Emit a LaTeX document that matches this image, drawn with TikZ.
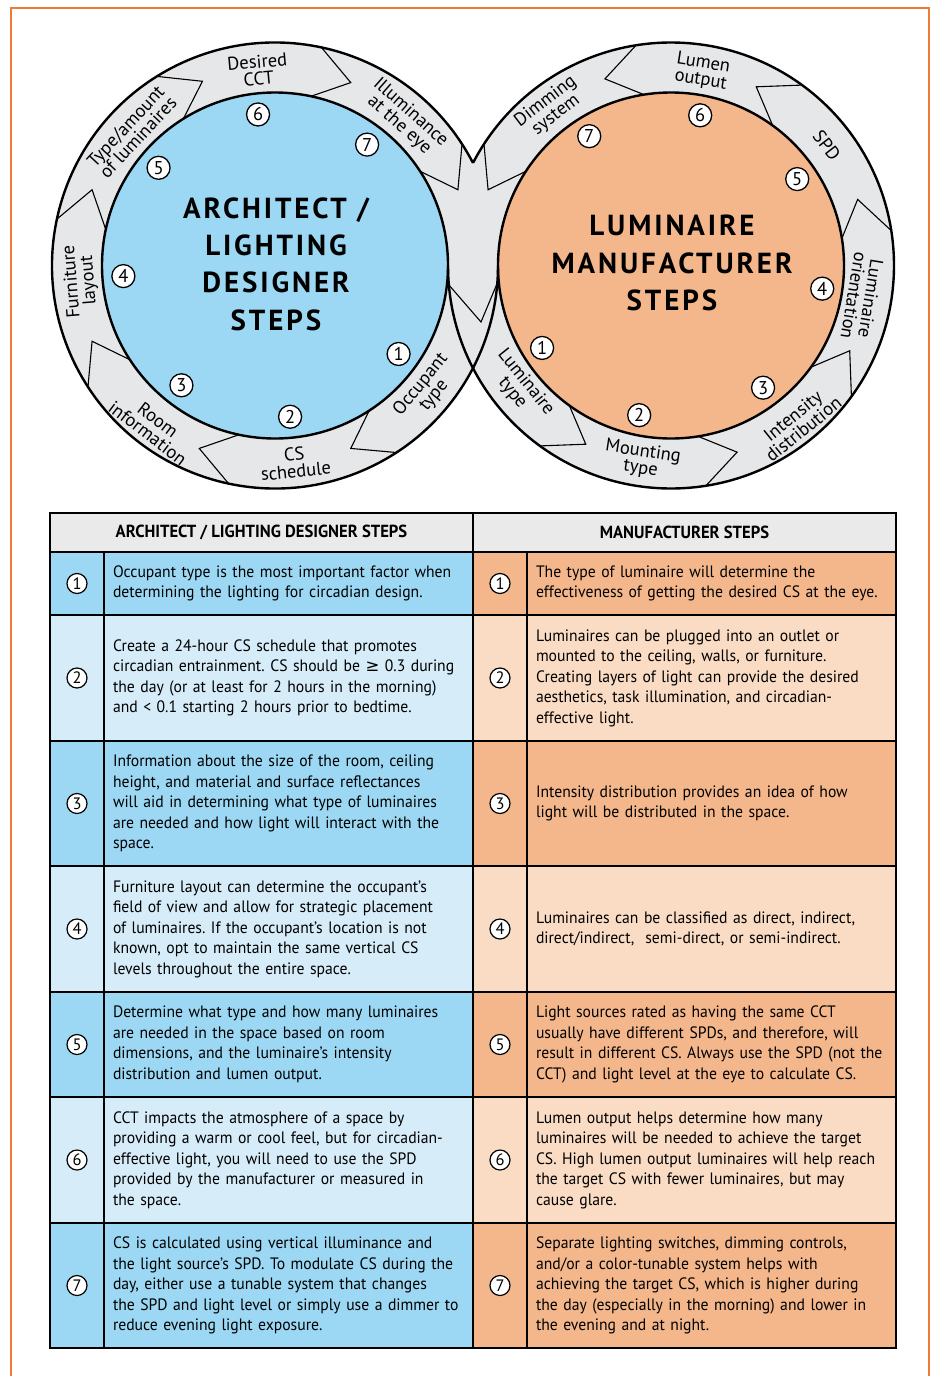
\documentclass[tikz,border=0pt]{standalone}
\usepackage{fontspec}
\setmainfont[FakeStretch=0.95]{PT Sans}
\newfontfamily\titlefont[LetterSpace=10]{PT Sans}
\newfontfamily\labelfont{PT Sans}
\newfontfamily\symfont{DejaVu Sans}
\usepackage{tikz}
\usetikzlibrary{positioning}
\frenchspacing

\definecolor{ringgray}{RGB}{230,231,233}
\definecolor{headgray}{RGB}{234,234,235}
\definecolor{darkblue}{RGB}{156,216,243}
\definecolor{lightblue}{RGB}{214,236,248}
\definecolor{darkorange}{RGB}{244,183,140}
\definecolor{lightorange}{RGB}{249,220,195}
\definecolor{frameorange}{RGB}{238,122,56}

\begin{document}
\begin{tikzpicture}[x=1pt,y=1pt,
  every node/.style={draw=none,align=center,inner sep=0pt,outer sep=0pt},
  ringtext/.style={font=\labelfont\fontsize{18.5}{17}\selectfont},
  steptitle/.style={font=\titlefont\bfseries\fontsize{29}{37.3}\selectfont},
  ringnum/.style={circle,draw,line width=1.3pt,fill=white,minimum size=23pt,font=\labelfont\fontsize{18.5}{18.5}\selectfont},
  tabnum/.style={circle,draw,line width=1.2pt,fill=white,minimum size=20pt,font=\labelfont\fontsize{16.5}{16.5}\selectfont},
  cell/.style={draw,line width=2.6pt},
  numcell/.style={cell,minimum width=54pt},
  textcell/.style={cell,minimum width=369pt,text width=351pt,inner xsep=9pt,align=left,font=\fontsize{16.5}{20.5}\selectfont},
  headcell/.style={cell,fill=headgray,minimum width=423pt,minimum height=39pt,font=\bfseries\fontsize{17.5}{17.5}\selectfont},
  ring/.style={line width=2.4pt},
  chev/.style={line width=1.1pt,line join=miter}]

  \useasboundingbox (0,0) rectangle (931,-1376);
  \draw[frameorange,line width=1.3pt] (11,-1376) -- (11,-8) -- (929,-8) -- (929,-1376);

  \coordinate (L) at (275,-265.5);
  \coordinate (R) at (671,-265.5);
  \coordinate (mtip) at (481,-322);

  \fill[ringgray] (L) circle[radius=223] (R) circle[radius=223];
  \draw[ring,fill=darkblue] (L) circle[radius=173];
  \draw[ring,fill=darkorange] (R) circle[radius=173];
  \draw[ring] ([shift={(27.4:223)}]L) arc[start angle=27.4,end angle=360,radius=223];
  \draw[ring] ([shift={(180:223)}]R) arc[start angle=180,end angle=512.6,radius=223];

  \draw[chev] ([shift={(33:173)}]L) -- ([shift={(22.5:198)}]L) -- ([shift={(33:223)}]L);
  \draw[chev] ([shift={(78:173)}]L) -- ([shift={(67.5:198)}]L) -- ([shift={(78:223)}]L);
  \draw[chev] ([shift={(122:173)}]L) -- ([shift={(111.5:198)}]L) -- ([shift={(122:223)}]L);
  \draw[chev] ([shift={(168:173)}]L) -- ([shift={(157.5:198)}]L) -- ([shift={(168:223)}]L);
  \draw[chev] ([shift={(213:173)}]L) -- ([shift={(202.5:198)}]L) -- ([shift={(213:223)}]L);
  \draw[chev] ([shift={(258:173)}]L) -- ([shift={(247.5:198)}]L) -- ([shift={(258:223)}]L);
  \draw[chev] ([shift={(303:173)}]L) -- ([shift={(292.5:198)}]L) -- ([shift={(303:223)}]L);

  \draw[chev] ([shift={(147:173)}]R) -- ([shift={(157.5:198)}]R) -- ([shift={(147:223)}]R);
  \draw[chev] ([shift={(99:173)}]R) -- ([shift={(109.5:198)}]R) -- ([shift={(99:223)}]R);
  \draw[chev] ([shift={(54:173)}]R) -- ([shift={(64.5:198)}]R) -- ([shift={(54:223)}]R);
  \draw[chev] ([shift={(9:173)}]R) -- ([shift={(19.5:198)}]R) -- ([shift={(9:223)}]R);
  \draw[chev] ([shift={(-36:173)}]R) -- ([shift={(-25.5:198)}]R) -- ([shift={(-36:223)}]R);
  \draw[chev] ([shift={(-81:173)}]R) -- ([shift={(-70.5:198)}]R) -- ([shift={(-81:223)}]R);
  \draw[chev] ([shift={(-126:173)}]R) -- ([shift={(-115.5:198)}]R) -- ([shift={(-126:223)}]R);

  \draw[chev] ([shift={(185:223)}]R) -- (mtip) -- ([shift={(-4.5:223)}]L);

  \draw node[steptitle] at (276,-264) (atitle) {ARCHITECT /\\LIGHTING\\DESIGNER\\STEPS};
  \draw node[steptitle] at (672,-263) (mtitle) {LUMINAIRE\\MANUFACTURER\\STEPS};

  \draw node[ringtext,rotate=50.7] at ([shift={(-39.3:197)}]L) (occ) {Occupant\\type};
  \draw node[ringtext,rotate=5.8] at ([shift={(-84.2:198)}]L) (sched) {CS\\schedule};
  \draw node[ringtext,rotate=-37.2] at ([shift={(232.8:202)}]L) (room) {Room\\information};
  \draw node[ringtext,rotate=94.6] at ([shift={(184.6:195)}]L) (furn) {Furniture\\layout};
  \draw node[ringtext,rotate=47] at ([shift={(137:196)}]L) (amount) {Type/amount\\of luminaires};
  \draw node[ringtext,rotate=5] at ([shift={(95:196)}]L) (cct) {Desired\\CCT};
  \draw node[ringtext,rotate=-41.5] at ([shift={(48.5:196)}]L) (eye) {Illuminance\\at the eye};

  \draw node[ringtext,rotate=-51.2] at ([shift={(218.8:195)}]R) (lumtype) {Luminaire\\type};
  \draw node[ringtext,rotate=-8.5] at ([shift={(261.5:197)}]R) (mount) {Mounting\\type};
  \draw node[ringtext,rotate=39] at ([shift={(-51:202)}]R) (distrib) {Intensity\\distribution};
  \draw node[ringtext,rotate=-99.4] at ([shift={(-9.4:194)}]R) (orient) {Luminaire\\orientation};
  \draw node[ringtext,rotate=-52.3] at ([shift={(37.7:197)}]R) (spd) {SPD};
  \draw node[ringtext,rotate=-9.1] at ([shift={(80.9:196)}]R) (lumen) {Lumen\\output};
  \draw node[ringtext,rotate=37.4] at ([shift={(127.4:198)}]R) (dimming) {Dimming\\system};

  \draw node[ringnum] at ([shift={(324.4:152)}]L) (a1) {1};
  \draw node[ringnum] at ([shift={(275.7:152)}]L) (a2) {2};
  \draw node[ringnum] at ([shift={(232:152)}]L) (a3) {3};
  \draw node[ringnum] at ([shift={(184:152)}]L) (a4) {4};
  \draw node[ringnum] at ([shift={(140:152)}]L) (a5) {5};
  \draw node[ringnum] at ([shift={(96.4:152)}]L) (a6) {6};
  \draw node[ringnum] at ([shift={(52.7:152)}]L) (a7) {7};

  \draw node[ringnum] at ([shift={(212.6:153)}]R) (m1) {1};
  \draw node[ringnum] at ([shift={(258:153)}]R) (m2) {2};
  \draw node[ringnum] at ([shift={(-53:153)}]R) (m3) {3};
  \draw node[ringnum] at ([shift={(-8.7:153)}]R) (m4) {4};
  \draw node[ringnum] at ([shift={(34.4:153)}]R) (m5) {5};
  \draw node[ringnum] at ([shift={(79:153)}]R) (m6) {6};
  \draw node[ringnum] at ([shift={(122.3:153)}]R) (m7) {7};

  % steps table
  \draw node[headcell,anchor=north west] at (50,-513) (ahead) {ARCHITECT / LIGHTING DESIGNER STEPS};
  \draw node[headcell,right=0pt of ahead] (mhead) {MANUFACTURER STEPS};

  \draw node[numcell,fill=darkblue,minimum height=63pt,anchor=north west] at (ahead.south west) (an1) {};
  \draw node[textcell,fill=darkblue,minimum height=63pt,right=0pt of an1] (at1) {Occupant type is the most important factor when\\determining the lighting for circadian design.};
  \draw node[numcell,fill=darkorange,minimum height=63pt,right=0pt of at1] (mn1) {};
  \draw node[textcell,fill=darkorange,minimum height=63pt,right=0pt of mn1] (mt1) {The type of luminaire will determine the\\effectiveness of getting the desired CS at the eye.};

  \draw node[numcell,fill=lightblue,minimum height=126pt,below=0pt of an1] (an2) {};
  \draw node[textcell,fill=lightblue,minimum height=126pt,right=0pt of an2] (at2) {Create a 24-hour CS schedule that promotes\\circadian entrainment. CS should be {\symfont ≥} 0.3 during\\the day (or at least for 2 hours in the morning)\\and < 0.1 starting 2 hours prior to bedtime.};
  \draw node[numcell,fill=lightorange,minimum height=126pt,right=0pt of at2] (mn2) {};
  \draw node[textcell,fill=lightorange,minimum height=126pt,right=0pt of mn2] (mt2) {Luminaires can be plugged into an outlet or\\mounted to the ceiling, walls, or furniture.\\Creating layers of light can provide the desired\\aesthetics, task illumination, and circadian-\\effective light.};

  \draw node[numcell,fill=darkblue,minimum height=125pt,below=0pt of an2] (an3) {};
  \draw node[textcell,fill=darkblue,minimum height=125pt,right=0pt of an3] (at3) {Information about the size of the room, ceiling\\height, and material and surface reflectances\\will aid in determining what type of luminaires\\are needed and how light will interact with the\\space.};
  \draw node[numcell,fill=darkorange,minimum height=125pt,right=0pt of at3] (mn3) {};
  \draw node[textcell,fill=darkorange,minimum height=125pt,right=0pt of mn3] (mt3) {Intensity distribution provides an idea of how\\light will be distributed in the space.};

  \draw node[numcell,fill=lightblue,minimum height=126pt,below=0pt of an3] (an4) {};
  \draw node[textcell,fill=lightblue,minimum height=126pt,right=0pt of an4] (at4) {Furniture layout can determine the occupant's\\field of view and allow for strategic placement\\of luminaires. If the occupant's location is not\\known, opt to maintain the same vertical CS\\levels throughout the entire space.};
  \draw node[numcell,fill=lightorange,minimum height=126pt,right=0pt of at4] (mn4) {};
  \draw node[textcell,fill=lightorange,minimum height=126pt,right=0pt of mn4] (mt4) {Luminaires can be classified as direct, indirect,\\direct/indirect,\ \ semi-direct, or semi-indirect.};

  \draw node[numcell,fill=darkblue,minimum height=105pt,below=0pt of an4] (an5) {};
  \draw node[textcell,fill=darkblue,minimum height=105pt,right=0pt of an5] (at5) {Determine what type and how many luminaires\\are needed in the space based on room\\dimensions, and the luminaire's intensity\\distribution and lumen output.};
  \draw node[numcell,fill=darkorange,minimum height=105pt,right=0pt of at5] (mn5) {};
  \draw node[textcell,fill=darkorange,minimum height=105pt,right=0pt of mn5] (mt5) {Light sources rated as having the same CCT\\usually have different SPDs, and therefore, will\\result in different CS. Always use the SPD (not the\\CCT) and light level at the eye to calculate CS.};

  \draw node[numcell,fill=lightblue,minimum height=126pt,below=0pt of an5] (an6) {};
  \draw node[textcell,fill=lightblue,minimum height=126pt,right=0pt of an6] (at6) {CCT impacts the atmosphere of a space by\\providing a warm or cool feel, but for circadian-\\effective light, you will need to use the SPD\\provided by the manufacturer or measured in\\the space.};
  \draw node[numcell,fill=lightorange,minimum height=126pt,right=0pt of at6] (mn6) {};
  \draw node[textcell,fill=lightorange,minimum height=126pt,right=0pt of mn6] (mt6) {Lumen output helps determine how many\\luminaires will be needed to achieve the target\\CS. High lumen output luminaires will help reach\\the target CS with fewer luminaires, but may\\cause glare.};

  \draw node[numcell,fill=darkblue,minimum height=125pt,below=0pt of an6] (an7) {};
  \draw node[textcell,fill=darkblue,minimum height=125pt,right=0pt of an7] (at7) {CS is calculated using vertical illuminance and\\the light source's SPD. To modulate CS during the\\day, either use a tunable system that changes\\the SPD and light level or simply use a dimmer to\\reduce evening light exposure.};
  \draw node[numcell,fill=darkorange,minimum height=125pt,right=0pt of at7] (mn7) {};
  \draw node[textcell,fill=darkorange,minimum height=125pt,right=0pt of mn7] (mt7) {Separate lighting switches, dimming controls,\\and/or a color-tunable system helps with\\achieving the target CS, which is higher during\\the day (especially in the morning) and lower in\\the evening and at night.};

  \draw node[tabnum] at (an1) (ac1) {1};
  \draw node[tabnum] at (an2) (ac2) {2};
  \draw node[tabnum] at (an3) (ac3) {3};
  \draw node[tabnum] at (an4) (ac4) {4};
  \draw node[tabnum] at (an5) (ac5) {5};
  \draw node[tabnum] at (an6) (ac6) {6};
  \draw node[tabnum] at (an7) (ac7) {7};
  \draw node[tabnum] at (mn1) (mc1) {1};
  \draw node[tabnum] at (mn2) (mc2) {2};
  \draw node[tabnum] at (mn3) (mc3) {3};
  \draw node[tabnum] at (mn4) (mc4) {4};
  \draw node[tabnum] at (mn5) (mc5) {5};
  \draw node[tabnum] at (mn6) (mc6) {6};
  \draw node[tabnum] at (mn7) (mc7) {7};

\end{tikzpicture}
\end{document}
